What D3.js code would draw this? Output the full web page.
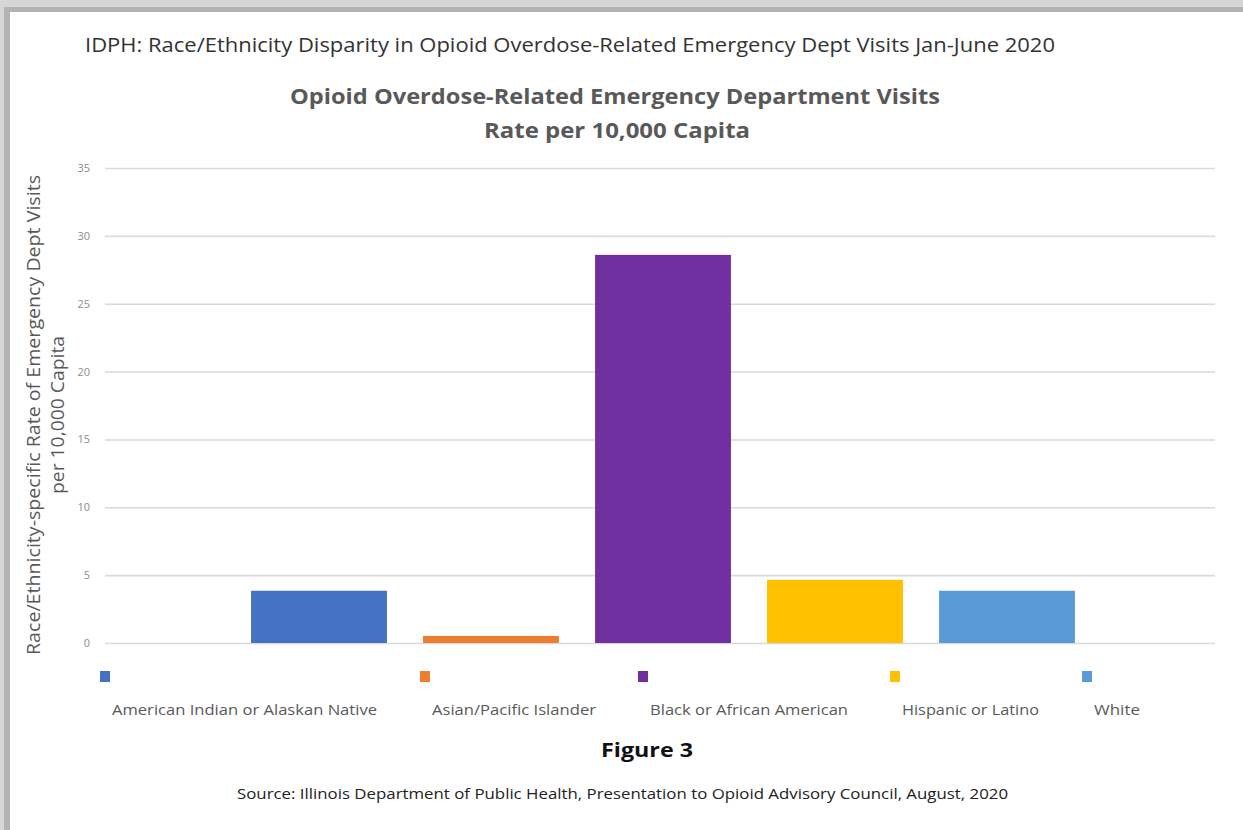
<!DOCTYPE html>
<html>
<head>
<meta charset="utf-8">
<script src="https://cdn.jsdelivr.net/npm/d3@7"></script>
<style>
  html, body { margin: 0; padding: 0; background: #fff; }
  svg { display: block; font-family: "Open Sans", "Liberation Sans", sans-serif; }
</style>
</head>
<body>
<svg id="chart"></svg>
<script>
(() => {

  // data
  const categories = [
    'American Indian or Alaskan Native',
    'Asian/Pacific Islander',
    'Black or African American',
    'Hispanic or Latino',
    'White'
  ];
  const rates = [3.85, 0.52, 28.6, 4.65, 3.85];
  const colors = ['#4472c4', '#ed7d31', '#7030a0', '#ffc000', '#5b9bd5'];
  const yTicks = [0, 5, 10, 15, 20, 25, 30, 35];

  const width = 1243, height = 830;

  const svg = d3.select('#chart')
    .attr('width', width)
    .attr('height', height);

  // frame like the screenshot
  svg.append('rect').attr('width', width).attr('height', height).attr('fill', '#d6d6d6');
  svg.append('rect').attr('x', 4).attr('y', 7).attr('width', width).attr('height', height).attr('fill', '#b3b3b3');
  svg.append('rect').attr('x', 10).attr('y', 12).attr('width', width).attr('height', height).attr('fill', '#ffffff');

  // helper: text squeezed to a target width (Calibri is not installed)
  function fitText(sel, w) {
    sel.attr('textLength', w).attr('lengthAdjust', 'spacingAndGlyphs');
    return sel;
  }

  fitText(svg.append('text')
    .attr('x', 85).attr('y', 52)
    .attr('font-size', 20).attr('fill', '#333')
    .text('IDPH: Race/Ethnicity Disparity in Opioid Overdose-Related Emergency Dept Visits Jan-June 2020'), 970);

  fitText(svg.append('text')
    .attr('x', 290).attr('y', 104)
    .attr('font-size', 22).attr('font-weight', 'bold').attr('fill', '#595959')
    .text('Opioid Overdose-Related Emergency Department Visits'), 650);

  fitText(svg.append('text')
    .attr('x', 484).attr('y', 138)
    .attr('font-size', 22).attr('font-weight', 'bold').attr('fill', '#595959')
    .text('Rate per 10,000 Capita'), 266);

  const y = d3.scaleLinear().domain([0, 35]).range([643, 168]);
  const x = d3.scaleBand().domain(categories).range([233, 1093]).paddingInner(0.21).paddingOuter(0.105);

  // gridlines + tick labels
  const yAxis = d3.axisLeft(y)
    .tickValues(yTicks)
    .tickSize(-(1215 - 105))
    .tickPadding(15);

  const gy = svg.append('g')
    .attr('transform', 'translate(105,0)')
    .call(yAxis);
  gy.select('.domain').remove();
  gy.selectAll('.tick line').attr('stroke', '#d9d9d9').attr('stroke-width', 1.6);
  gy.selectAll('.tick text')
    .attr('fill', '#8c8c8c')
    .attr('font-size', 11)
    .attr('font-family', '"Open Sans", sans-serif');

  // bars
  svg.append('g').selectAll('rect')
    .data(rates)
    .enter()
    .append('rect')
    .attr('x', (d, i) => x(categories[i]))
    .attr('width', x.bandwidth())
    .attr('y', d => y(d))
    .attr('height', d => y(0) - y(d))
    .attr('fill', (d, i) => colors[i]);

  // y axis title
  const yt = svg.append('text')
    .attr('transform', 'translate(40,415) rotate(-90)')
    .attr('font-size', 18).attr('fill', '#595959')
    .attr('text-anchor', 'middle');
  fitText(yt.append('tspan').attr('x', 0).attr('y', 0)
    .text('Race/Ethnicity-specific Rate of Emergency Dept Visits'), 480);
  fitText(svg.append('text')
    .attr('transform', 'translate(64,415) rotate(-90)')
    .attr('font-size', 18).attr('fill', '#595959')
    .attr('text-anchor', 'middle')
    .text('per 10,000 Capita'), 158);

  // legend
  const legendX = [100, 420, 638, 890, 1082];
  const labelW = [265, 164, 198, 137, 46];
  const legend = svg.append('g').selectAll('g')
    .data(categories)
    .enter()
    .append('g')
    .attr('transform', (d, i) => `translate(${legendX[i]},0)`);
  legend.append('rect')
    .attr('x', 0).attr('y', 671)
    .attr('width', 10).attr('height', 11)
    .attr('fill', (d, i) => colors[i]);
  legend.append('text')
    .attr('x', 12).attr('y', 715)
    .attr('font-size', 15).attr('fill', '#595959')
    .text(d => d)
    .each(function (d, i) { fitText(d3.select(this), labelW[i]); });

  fitText(svg.append('text')
    .attr('x', 601).attr('y', 757)
    .attr('font-size', 19).attr('font-weight', 'bold').attr('fill', '#111')
    .text('Figure 3'), 92);

  fitText(svg.append('text')
    .attr('x', 237).attr('y', 799)
    .attr('font-size', 15).attr('fill', '#222')
    .text('Source: Illinois Department of Public Health, Presentation to  Opioid Advisory Council, August, 2020'), 771);

})();
</script>
</body>
</html>
